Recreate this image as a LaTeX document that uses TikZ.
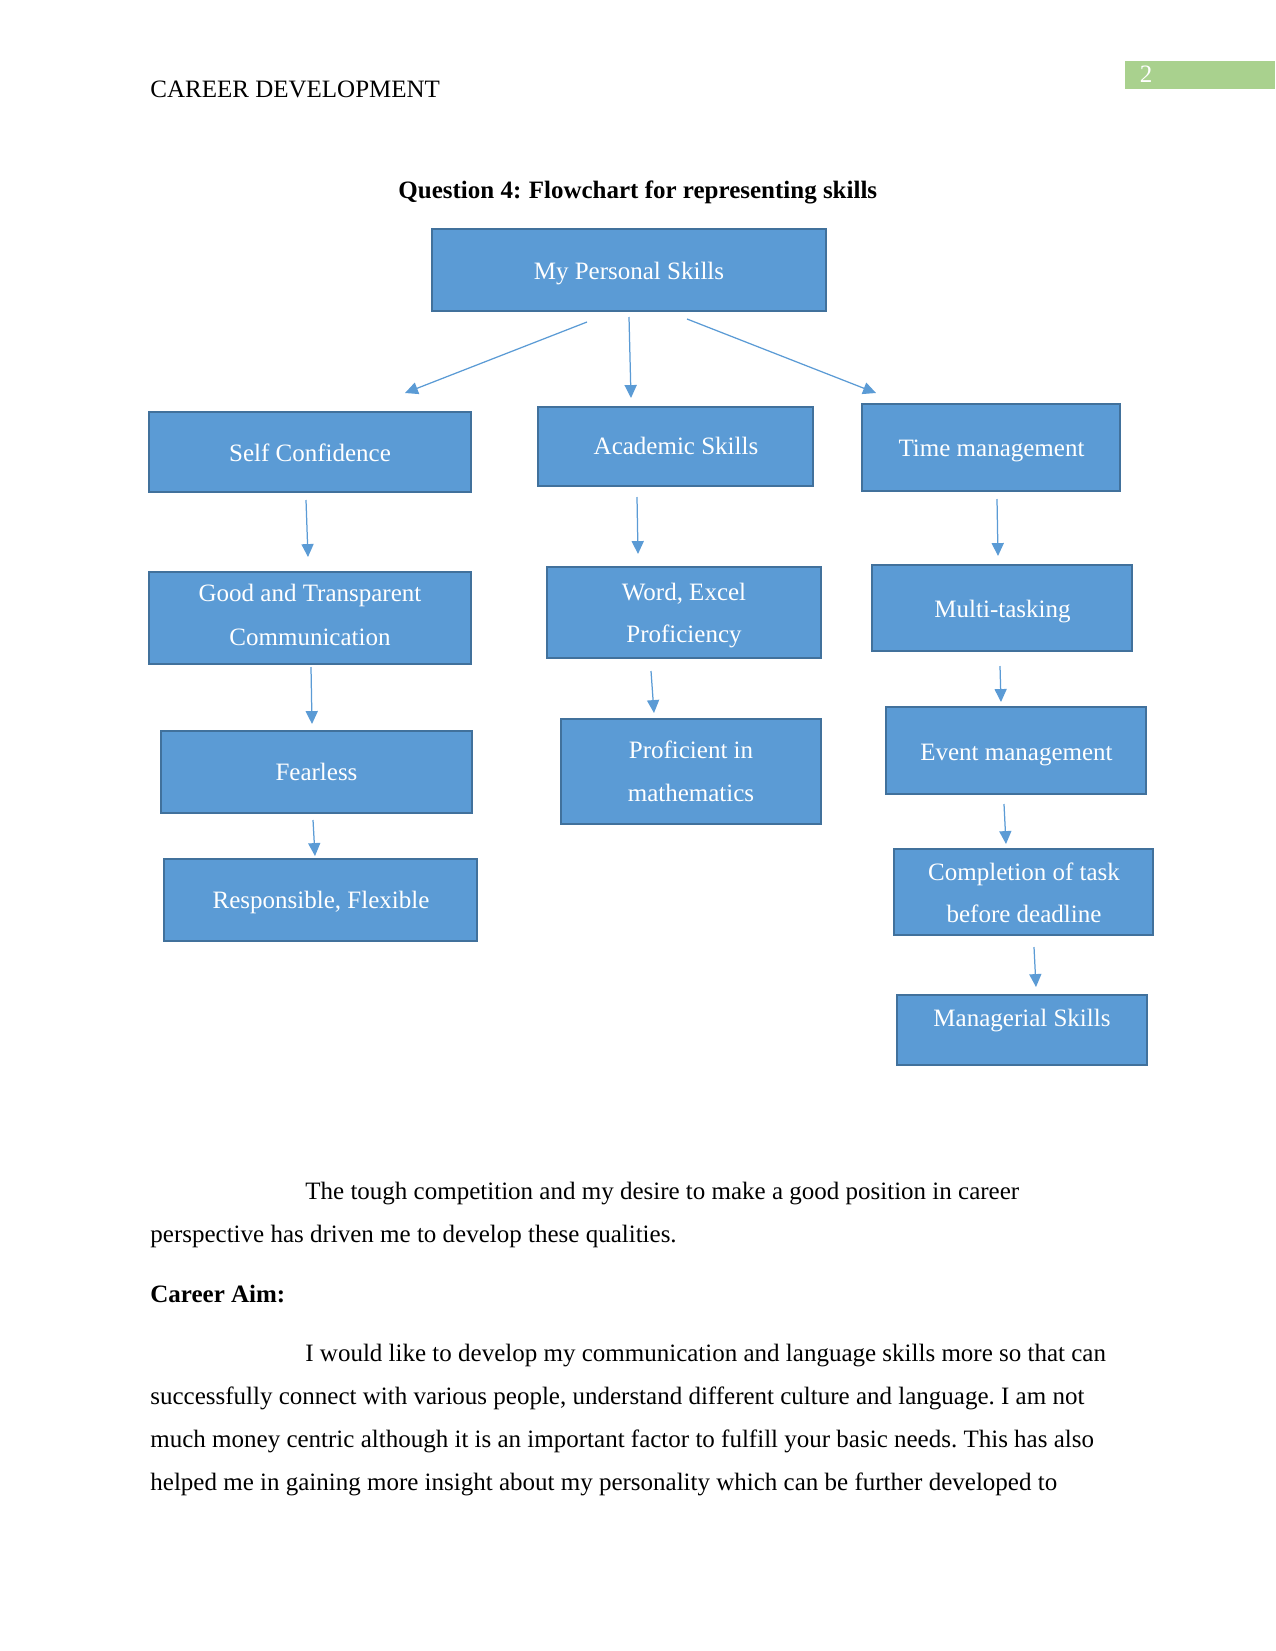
\documentclass[tikz,border=0pt]{standalone}
\usepackage{fontspec}
\setmainfont{Liberation Serif}
\usetikzlibrary{fit,arrows.meta}
\definecolor{boxfill}{HTML}{5B9BD5}
\definecolor{boxline}{HTML}{41719C}
\definecolor{pagegreen}{HTML}{A9D18E}
\tikzset{
  box/.style={draw=boxline, fill=boxfill, line width=0.75pt, inner sep=0pt},
  lbl/.style={text=white, anchor=base, inner sep=0pt, font=\fontsize{12bp}{14bp}\selectfont},
  bodytxt/.style={anchor=base west, inner sep=0pt, font=\fontsize{12bp}{14bp}\selectfont},
  conn/.style={draw=boxfill, line width=0.6pt, -{Triangle[width=5.8bp,length=6.2bp]}}
}
\frenchspacing
\begin{document}
\frenchspacing
\begin{tikzpicture}[x=0.48bp,y=-0.48bp]
\useasboundingbox (0,0) rectangle (1275,1651);
% header
\node[bodytxt] (hdr) at (150,97.7) {CAREER DEVELOPMENT};
\node[fit={(1125,61) (1275,88.5)}, fill=pagegreen, inner sep=0pt] (pg) {};
\node[lbl] (pgnum) at (1146,82.5) {2};
% title
\node[bodytxt, font=\fontsize{12bp}{14bp}\selectfont\bfseries] (title) at (398,198) {Question 4:\hspace{0.3em}Flowchart for representing skills};
% boxes
\node[box, fit={(432,229) (826,311)}] (ps) {};
\node[lbl] at (629,279) {My Personal Skills};
\node[box, fit={(149,412) (471,492)}] (sc) {};
\node[lbl] at (310,461) {Self Confidence};
\node[box, fit={(149,572) (471,664)}] (gt) {};
\node[lbl] at (310,601.7) {Good and Transparent};
\node[lbl] at (310,645) {Communication};
\node[box, fit={(161,731) (472,813)}] (fl) {};
\node[lbl] at (316.5,780) {Fearless};
\node[box, fit={(164,859) (477,941)}] (rf) {};
\node[lbl] at (321,908.3) {Responsible, Flexible};
\node[box, fit={(538,407) (813,486)}] (ac) {};
\node[lbl] at (676,454.3) {Academic Skills};
\node[box, fit={(547,567) (821,658)}] (we) {};
\node[lbl] at (684,600) {Word, Excel};
\node[lbl] at (684,642.7) {Proficiency};
\node[box, fit={(561,719) (821,824)}] (pm) {};
\node[lbl] at (691,758.3) {Proficient in};
\node[lbl] at (691,801.7) {mathematics};
\node[box, fit={(862,404) (1120,491)}] (tm) {};
\node[lbl] at (991.5,456.6) {Time management};
\node[box, fit={(872,565) (1132,651)}] (mt) {};
\node[lbl] at (1002.5,617.9) {Multi-tasking};
\node[box, fit={(886,707) (1146,794)}] (em) {};
\node[lbl] at (1016.5,760.8) {Event management};
\node[box, fit={(894,849) (1153,935)}] (ct) {};
\node[lbl] at (1024,880.6) {Completion of task};
\node[lbl] at (1024,922.9) {before deadline};
\node[box, fit={(897,995) (1147,1065)}] (ms) {};
\node[lbl] at (1022,1026) {Managerial Skills};
% arrow end points
\coordinate (a1s) at (587,322); \coordinate (a1e) at (405,393);
\coordinate (a2s) at (629,317); \coordinate (a2e) at (631,398);
\coordinate (a3s) at (687,319); \coordinate (a3e) at (876,393);
\coordinate (l1s) at (306,500); \coordinate (l1e) at (308,557);
\coordinate (l2s) at (311,667); \coordinate (l2e) at (312,724);
\coordinate (l3s) at (313,820); \coordinate (l3e) at (315,856);
\coordinate (m1s) at (637,497); \coordinate (m1e) at (638,554);
\coordinate (m2s) at (651,671); \coordinate (m2e) at (654,713);
\coordinate (r1s) at (997,499); \coordinate (r1e) at (998,556);
\coordinate (r2s) at (1000,666); \coordinate (r2e) at (1001,702);
\coordinate (r3s) at (1004,804); \coordinate (r3e) at (1006,844);
\coordinate (r4s) at (1034,947); \coordinate (r4e) at (1036,987);
\foreach \a in {a1,a2,a3,l1,l2,l3,m1,m2,r1,r2,r3,r4}{
  \draw[conn] (\a s) -- (\a e);
}
% body text
\node[bodytxt] (b1) at (305,1199) {The tough competition and my desire to make a good position in career};
\node[bodytxt] (b2) at (150,1242) {perspective has driven me to develop these qualities.};
\node[bodytxt, font=\fontsize{12bp}{14bp}\selectfont\bfseries] (b3) at (150,1302) {Career Aim:};
\node[bodytxt] (b4) at (305,1361) {I would like to develop my communication and language skills more so that can};
\node[bodytxt] (b5) at (150,1404) {successfully connect with various people, understand different culture and language. I am not};
\node[bodytxt] (b6) at (150,1447) {much money centric although it is an important factor to fulfill your basic needs. This has also};
\node[bodytxt] (b7) at (150,1490) {helped me in gaining more insight about my personality which can be further developed to};
\end{tikzpicture}
\end{document}
